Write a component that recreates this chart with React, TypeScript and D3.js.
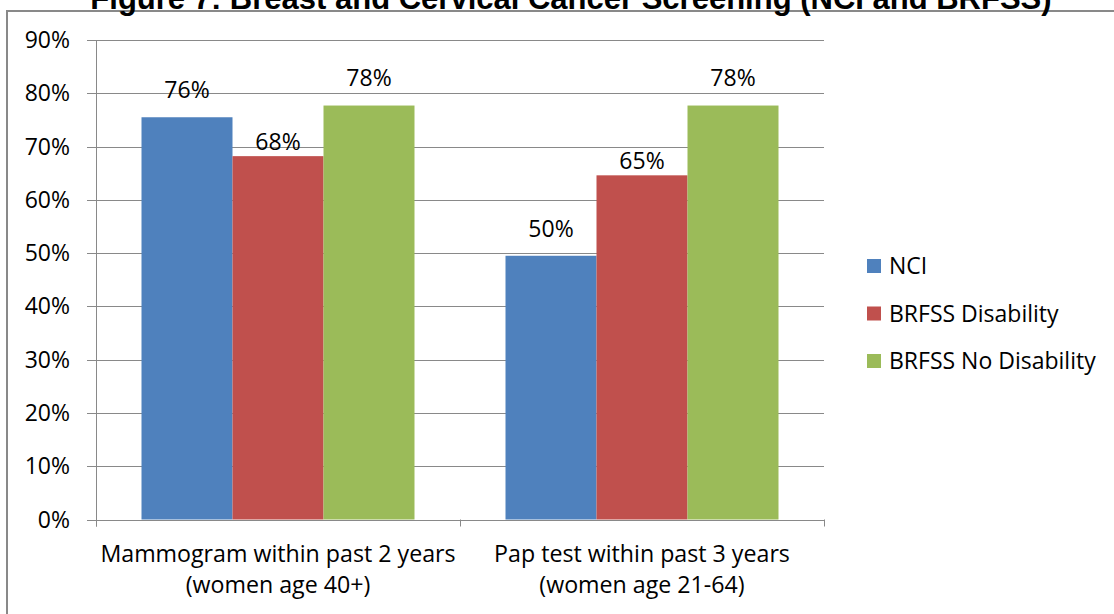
import React from 'react';
import * as d3 from 'd3';

// chart values
const categoryLine1 = ['Mammogram within past 2 years', 'Pap test within past 3 years'];
const categoryLine2 = ['(women age 40+)', '(women age 21-64)'];
const seriesNames = ['NCI', 'BRFSS Disability', 'BRFSS No Disability'];
const nciValues = [75.5, 49.5];
const disabilityValues = [68.2, 64.6];
const noDisabilityValues = [77.7, 77.7];
const yTicks = [0, 10, 20, 30, 40, 50, 60, 70, 80, 90];

const seriesValues = [nciValues, disabilityValues, noDisabilityValues];
const colors = ['#4F81BD', '#C0504D', '#9BBB59'];
const labelGap = [19, 6, 20];
const title = 'Figure 7: Breast and Cervical Cancer Screening (NCI and BRFSS)';
const font = "'Open Sans', Calibri, sans-serif";
const gridColor = '#898989';

export default function App() {
  const width = 1114;
  const height = 614;
  const left = 96;
  const right = 824;
  const top = 40;
  const bottom = 519.5;

  const x0 = d3.scaleBand<string>().domain(categoryLine1).range([left, right]).paddingInner(0).paddingOuter(0);
  const x1 = d3.scaleBand<string>().domain(seriesNames).range([0, x0.bandwidth()]).paddingInner(0).paddingOuter(0.5);
  const y = d3.scaleLinear().domain([0, 90]).range([bottom, top]);

  const catTicks = [left, ...categoryLine1.map(c => (x0(c) as number) + x0.bandwidth())];

  return (
    <div style={{ position: 'fixed', left: 0, top: 0 }}>
      <svg width={width} height={height} style={{ display: 'block', background: '#fff' }}>
        <rect x={7} y={11} width={width} height={height} fill="#fff" stroke={gridColor} strokeWidth={2} />
        <text x={571} y={9} textAnchor="middle" fontFamily="'Liberation Sans', Arial, sans-serif" fontWeight="bold" fontSize={31}>
          {title}
        </text>

        {/* gridlines + y ticks */}
        {yTicks.map(t => (
          <g key={t}>
            <line x1={left - 9} x2={right} y1={Math.round(y(t)) + 0.5} y2={Math.round(y(t)) + 0.5} stroke={gridColor} strokeWidth={1} />
            <text x={70} y={y(t) + 8} textAnchor="end" fontFamily={font} fontSize={23} fill="#000">
              {t}%
            </text>
          </g>
        ))}
        <line x1={left + 0.5} x2={left + 0.5} y1={top} y2={bottom + 7} stroke={gridColor} />
        {catTicks.map((cx, i) => (
          <line key={i} x1={Math.round(cx) + 0.5} x2={Math.round(cx) + 0.5} y1={bottom} y2={bottom + 7} stroke={gridColor} />
        ))}

        {/* bars */}
        {categoryLine1.map((c, ci) => (
          <g key={c} transform={`translate(${x0(c)},0)`}>
            {seriesNames.map((s, si) => {
              const v = seriesValues[si][ci];
              const bx = x1(s) as number;
              return (
                <g key={s}>
                  <rect x={bx} y={y(v)} width={x1.bandwidth()} height={bottom - y(v)} fill={colors[si]} />
                  <text x={bx + x1.bandwidth() / 2} y={y(v) - labelGap[si]} textAnchor="middle" fontFamily={font} fontSize={23} fill="#000">
                    {Math.round(v)}%
                  </text>
                </g>
              );
            })}
          </g>
        ))}

        {/* category labels */}
        {categoryLine1.map((c, ci) => {
          const cx = (x0(c) as number) + x0.bandwidth() / 2;
          return (
            <text key={c} textAnchor="middle" fontFamily={font} fontSize={23.2} fill="#000">
              <tspan x={cx} y={562}>{c}</tspan>
              <tspan x={cx} y={592.5}>{categoryLine2[ci]}</tspan>
            </text>
          );
        })}

        {/* legend */}
        {seriesNames.map((s, si) => (
          <g key={s} transform={`translate(867,${259 + si * 47.5})`}>
            <rect x={0} y={0} width={14} height={14} fill={colors[si]} />
            <text x={22} y={15} fontFamily={font} fontSize={23} fill="#000">
              {s}
            </text>
          </g>
        ))}
      </svg>
    </div>
  );
}
